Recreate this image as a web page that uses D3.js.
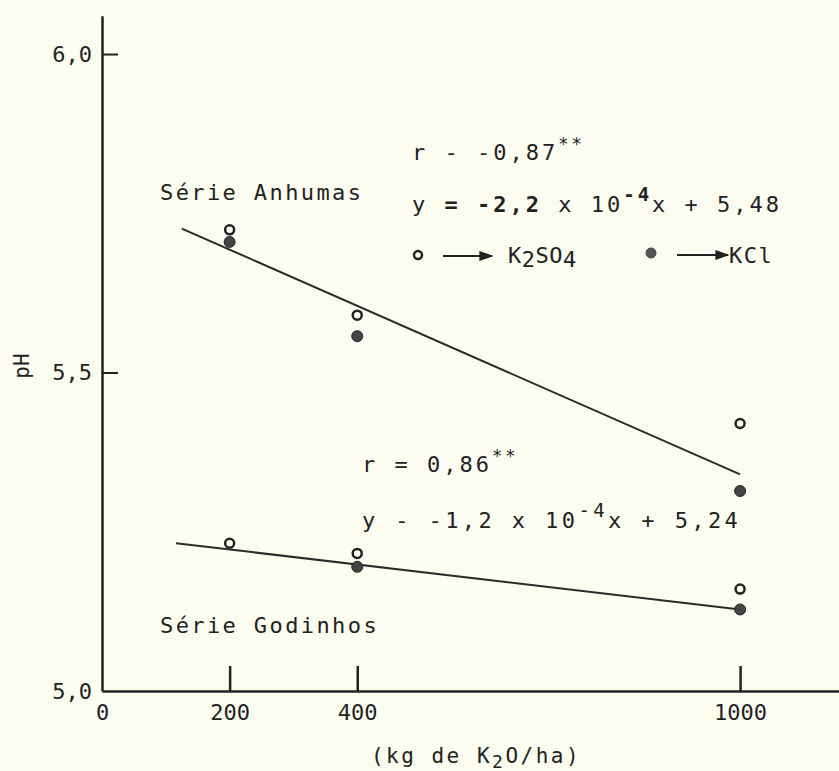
<!DOCTYPE html>
<html>
<head>
<meta charset="utf-8">
<script src="https://cdn.jsdelivr.net/npm/d3@7"></script>
<style>
  body { margin: 0; background: #fcfcf1; }
  svg { display: block; }
  text { font-family: "DejaVu Sans Mono", monospace; fill: #222; }
</style>
</head>
<body>
<div id="chart"></div>
<script>
// doses (kg de K2O/ha)
const doses = [200, 400, 1000];
const xTicks = [0, 200, 400, 1000];
const yTicks = [5.0, 5.5, 6.0];

// pH values
const anhumasK2SO4 = [5.724, 5.590, 5.420];
const anhumasKCl = [5.705, 5.557, 5.314];
const godinhosK2SO4 = [5.232, 5.216, 5.160];
const godinhosKCl = [null, 5.195, 5.128];

// fitted lines, start and end points as drawn
const anhumasFitX = [125, 1000];
const anhumasFitY = [5.726, 5.340];
const godinhosFitX = [116, 1000];
const godinhosFitY = [5.232, 5.128];

const width = 839;
const height = 771;

const svg = d3.select("#chart")
    .append("svg")
    .attr("width", width)
    .attr("height", height);

const xScale = d3.scaleLinear()
    .domain([0, 1155])
    .range([102, 839]);

const yScale = d3.scaleLinear()
    .domain([5.0, 6.06])
    .range([691, 15.8]);

const fmt = d => d3.format(".1f")(d).replace(".", ",");

// x axis, ticks pointing up
const xAxis = d3.axisBottom(xScale)
    .tickValues(xTicks)
    .tickSizeInner(-25)
    .tickSizeOuter(0)
    .tickPadding(13)
    .tickFormat(d3.format("d"));

const gx = svg.append("g")
    .attr("transform", "translate(0,691)")
    .call(xAxis);
gx.select(".domain").attr("stroke", "#222").attr("stroke-width", 2.5);
gx.selectAll(".tick line").attr("stroke", "#222").attr("stroke-width", 2.5)
    .filter(d => d === 0).remove();
gx.selectAll(".tick text").attr("font-size", 22).attr("fill", "#222")
    .style("font-family", "DejaVu Sans Mono");

// y axis, ticks pointing right
const yAxis = d3.axisLeft(yScale)
    .tickValues(yTicks)
    .tickSizeInner(-16)
    .tickSizeOuter(0)
    .tickPadding(10)
    .tickFormat(fmt);

const gy = svg.append("g")
    .attr("transform", "translate(102,0)")
    .call(yAxis);
gy.select(".domain").attr("stroke", "#222").attr("stroke-width", 2.5);
gy.selectAll(".tick line").attr("stroke", "#222").attr("stroke-width", 2)
    .filter(d => d === 5.0).remove();
gy.selectAll(".tick text").attr("font-size", 22).attr("fill", "#222")
    .style("font-family", "DejaVu Sans Mono");

// axis titles
svg.append("text")
    .attr("transform", "translate(29,366) rotate(-90)")
    .attr("text-anchor", "middle")
    .attr("font-size", 21)
    .text("pH");

const xt = svg.append("text")
    .attr("x", 476)
    .attr("y", 763)
    .attr("text-anchor", "middle")
    .attr("font-size", 21)
    .attr("letter-spacing", 2.5);
xt.append("tspan").text("(kg de K");
xt.append("tspan").attr("dy", 5).attr("font-size", 18).text("2");
xt.append("tspan").attr("dy", -5).text("O/ha)");

// regression lines
const line = d3.line()
    .x(d => xScale(d[0]))
    .y(d => yScale(d[1]));

[[anhumasFitX, anhumasFitY], [godinhosFitX, godinhosFitY]].forEach(([xs, ys]) => {
    svg.append("path")
        .datum(d3.zip(xs, ys))
        .attr("d", line)
        .attr("fill", "none")
        .attr("stroke", "#2a2a2a")
        .attr("stroke-width", 2);
});

// points
function drawPoints(values, filled) {
    const pts = doses.map((d, i) => ({ x: d, y: values[i] })).filter(d => d.y !== null);
    svg.append("g")
        .selectAll("circle")
        .data(pts)
        .enter()
        .append("circle")
        .attr("cx", d => xScale(d.x))
        .attr("cy", d => yScale(d.y))
        .attr("r", filled ? 5.5 : 4.5)
        .attr("fill", filled ? "#444" : "#fcfcf1")
        .attr("stroke", "#222")
        .attr("stroke-width", filled ? 1 : 2.5);
}
drawPoints(anhumasKCl, true);
drawPoints(anhumasK2SO4, false);
drawPoints(godinhosKCl, true);
drawPoints(godinhosK2SO4, false);

// annotations
function label(x, y, parts, spacing) {
    const t = svg.append("text")
        .attr("x", x)
        .attr("y", y)
        .attr("font-size", 22)
        .attr("letter-spacing", spacing || 2.4);
    parts.forEach(p => {
        t.append("tspan")
            .attr("dy", p.dy || 0)
            .attr("font-size", p.size || 22)
            .attr("font-weight", p.bold ? "bold" : null)
            .text(p.t);
    });
    return t;
}

label(160, 200, [{ t: "Série Anhumas" }]);
label(160, 633, [{ t: "Série Godinhos" }]);

label(412, 160, [{ t: "r - -0,87" }, { t: "**", dy: -10, size: 17 }], 3);
label(412, 212, [{ t: "y " }, { t: "= -2,2", bold: true }, { t: " x 10" },
    { t: "-4", dy: -11, size: 19, bold: true }, { t: "x + 5,48", dy: 11 }], 3);

label(362, 472, [{ t: "r = 0,86" }, { t: "**", dy: -10, size: 17 }], 3);
label(362, 528, [{ t: "y - -1,2 x 10" }, { t: "-4", dy: -11, size: 19 },
    { t: "x + 5,24", dy: 11 }], 3.4);

// legend
const defs = svg.append("defs");
defs.append("marker")
    .attr("id", "arrow")
    .attr("viewBox", "0 0 10 10")
    .attr("refX", 9)
    .attr("refY", 5)
    .attr("markerWidth", 7)
    .attr("markerHeight", 7)
    .attr("orient", "auto")
    .append("path")
    .attr("d", "M0,1.5 L10,5 L0,8.5 Z")
    .attr("fill", "#222");

svg.append("circle").attr("cx", 418).attr("cy", 255).attr("r", 4)
    .attr("fill", "#fcfcf1").attr("stroke", "#222").attr("stroke-width", 2.5);
svg.append("line").attr("x1", 443).attr("x2", 492).attr("y1", 256).attr("y2", 256)
    .attr("stroke", "#222").attr("stroke-width", 2).attr("marker-end", "url(#arrow)");
label(508, 263, [{ t: "K" }, { t: "2", dy: 4 }, { t: "SO", dy: -4 }, { t: "4", dy: 4 }], 0.5);

svg.append("circle").attr("cx", 651).attr("cy", 253).attr("r", 5)
    .attr("fill", "#555").attr("stroke", "#444").attr("stroke-width", 1);
svg.append("line").attr("x1", 677).attr("x2", 728).attr("y1", 255).attr("y2", 255)
    .attr("stroke", "#222").attr("stroke-width", 2).attr("marker-end", "url(#arrow)");
label(729, 263, [{ t: "KCl" }], 1.5);
</script>
</body>
</html>
